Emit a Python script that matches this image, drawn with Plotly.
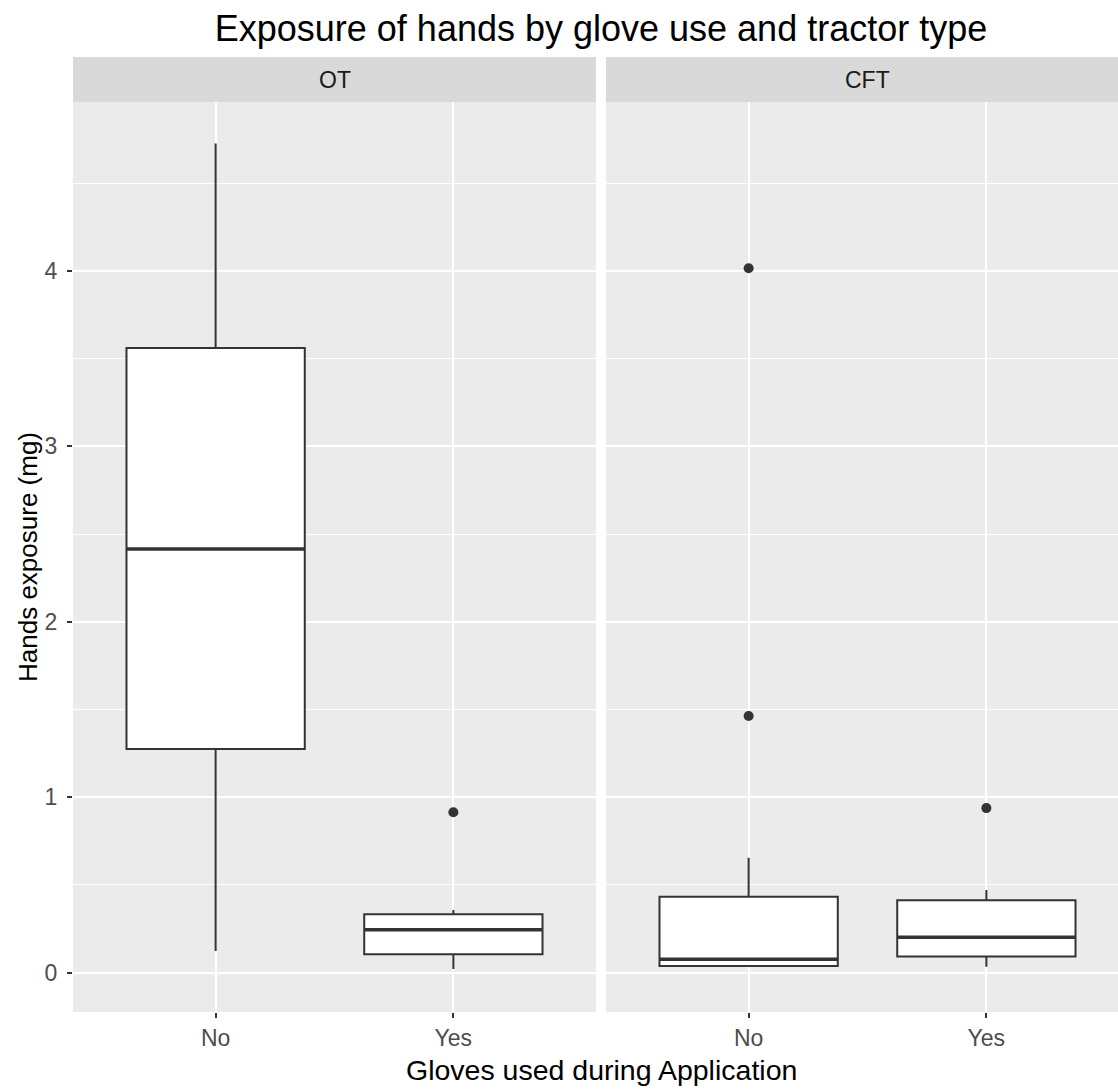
import plotly.graph_objects as go

# ---- data ----
panels = ["OT", "CFT"]
categories = ["No", "Yes"]
q1 = {"OT": [1.275, 0.105], "CFT": [0.038, 0.093]}
median = {"OT": [2.415, 0.245], "CFT": [0.076, 0.202]}
q3 = {"OT": [3.560, 0.333], "CFT": [0.433, 0.413]}
lowerfence = {"OT": [0.124, 0.021], "CFT": [0.036, 0.034]}
upperfence = {"OT": [4.726, 0.357], "CFT": [0.655, 0.471]}
outliers = {"OT": [[], [0.914]], "CFT": [[4.015, 1.463], [0.938]]}

title_text = "Exposure of hands by glove use and tractor type"
x_title = "Gloves used during Application"
y_title = "Hands exposure (mg)"
y_ticks = [0, 1, 2, 3, 4]

# the reference is cropped on the right: the second panel runs past the window edge
W, H = 1129, 1091
ml, mr, mt, mb = 73, 0, 57, 79
pw = W - ml - mr
ph = H - mt - mb
strip_h = 45
ytop = (ph - strip_h) / ph
gap = 10
xdom = [[0, (pw - gap) / 2 / pw], [(pw + gap) / 2 / pw, 1]]

BOXW = 0.75
LINE = "#333333"
FONT = "Liberation Sans, Arial, sans-serif"

fig = go.Figure()
for pi, p in enumerate(panels):
    xa = "x" if pi == 0 else "x2"
    ya = "y" if pi == 0 else "y2"
    for ci, c in enumerate(categories):
        fig.add_trace(go.Box(
            x=[ci], q1=[q1[p][ci]], median=[median[p][ci]], q3=[q3[p][ci]],
            lowerfence=[lowerfence[p][ci]], upperfence=[upperfence[p][ci]],
            width=BOXW, whiskerwidth=0, fillcolor="white",
            line=dict(color=LINE, width=2), boxpoints=False,
            xaxis=xa, yaxis=ya, showlegend=False, hoverinfo="skip",
        ))
        # thicker median line (ggplot style)
        fig.add_trace(go.Scatter(
            x=[ci - BOXW / 2, ci + BOXW / 2], y=[median[p][ci]] * 2,
            mode="lines", line=dict(color=LINE, width=3.5),
            xaxis=xa, yaxis=ya, showlegend=False, hoverinfo="skip",
        ))
        if outliers[p][ci]:
            fig.add_trace(go.Scatter(
                x=[ci] * len(outliers[p][ci]), y=outliers[p][ci],
                mode="markers", marker=dict(color=LINE, size=10),
                xaxis=xa, yaxis=ya, showlegend=False, hoverinfo="skip",
            ))

yr = [-0.224, 4.962]
TICKFONT = dict(family=FONT, size=23, color="#4D4D4D")
common_x = dict(range=[-0.6, 1.6], tickvals=[0, 1], ticktext=categories,
                showgrid=True, gridcolor="white", gridwidth=2, zeroline=False,
                ticks="outside", ticklen=5, tickwidth=1.5, tickcolor=LINE,
                ticklabelstandoff=0,
                tickfont=TICKFONT, showline=False, fixedrange=True)
fig.update_layout(
    width=W, height=H,
    margin=dict(l=ml, r=mr, t=mt, b=mb),
    paper_bgcolor="white", plot_bgcolor="#EBEBEB",
    xaxis=dict(domain=xdom[0], anchor="y", **common_x),
    xaxis2=dict(domain=xdom[1], anchor="y2", **common_x),
    yaxis=dict(domain=[0, ytop], range=yr, tickvals=y_ticks,
               showgrid=True, gridcolor="white", gridwidth=2, zeroline=False,
               minor=dict(dtick=0.5, tick0=0, showgrid=True, gridcolor="white", gridwidth=1.1),
               ticks="outside", ticklen=5, tickwidth=1.5, tickcolor=LINE,
               ticklabelstandoff=5, tickfont=TICKFONT),
    yaxis2=dict(domain=[0, ytop], range=yr, anchor="x2", matches="y",
                showticklabels=False, ticks="",
                tickvals=y_ticks,
                showgrid=True, gridcolor="white", gridwidth=2, zeroline=False,
                minor=dict(dtick=0.5, tick0=0, showgrid=True, gridcolor="white", gridwidth=1.1)),
    title=dict(text=title_text, x=0.5, xref="paper", xanchor="center",
               y=1 - 28 / H, yref="container", yanchor="middle",
               font=dict(family=FONT, size=36, color="black")),
)

shapes = []
annotations = []
for pi, p in enumerate(panels):
    xd = "x domain" if pi == 0 else "x2 domain"
    shapes.append(dict(type="rect", xref=xd, yref="paper", x0=0, x1=1,
                       y0=ytop, y1=1, fillcolor="#D9D9D9", line=dict(width=0),
                       layer="below"))
    annotations.append(dict(text=p, xref=xd, yref="paper", x=0.5,
                            y=(ytop + 1) / 2, showarrow=False,
                            xanchor="center", yanchor="middle",
                            font=dict(family=FONT, size=23, color="#1A1A1A")))
annotations.append(dict(text=x_title, xref="paper", yref="paper", x=0.5,
                        y=-(1070 - (H - mb)) / ph, showarrow=False,
                        xanchor="center", yanchor="middle",
                        font=dict(family=FONT, size=28.5, color="black")))
annotations.append(dict(text=y_title, xref="paper", yref="paper",
                        x=(28 - ml) / pw, y=ytop / 2, showarrow=False,
                        textangle=-90, xanchor="center", yanchor="middle",
                        font=dict(family=FONT, size=26, color="black")))
fig.update_layout(shapes=shapes, annotations=annotations)

fig.write_html(
    "out.html",
    config={"displayModeBar": False},
    post_script="document.body.style.margin='0';document.body.style.overflow='hidden';",
)
